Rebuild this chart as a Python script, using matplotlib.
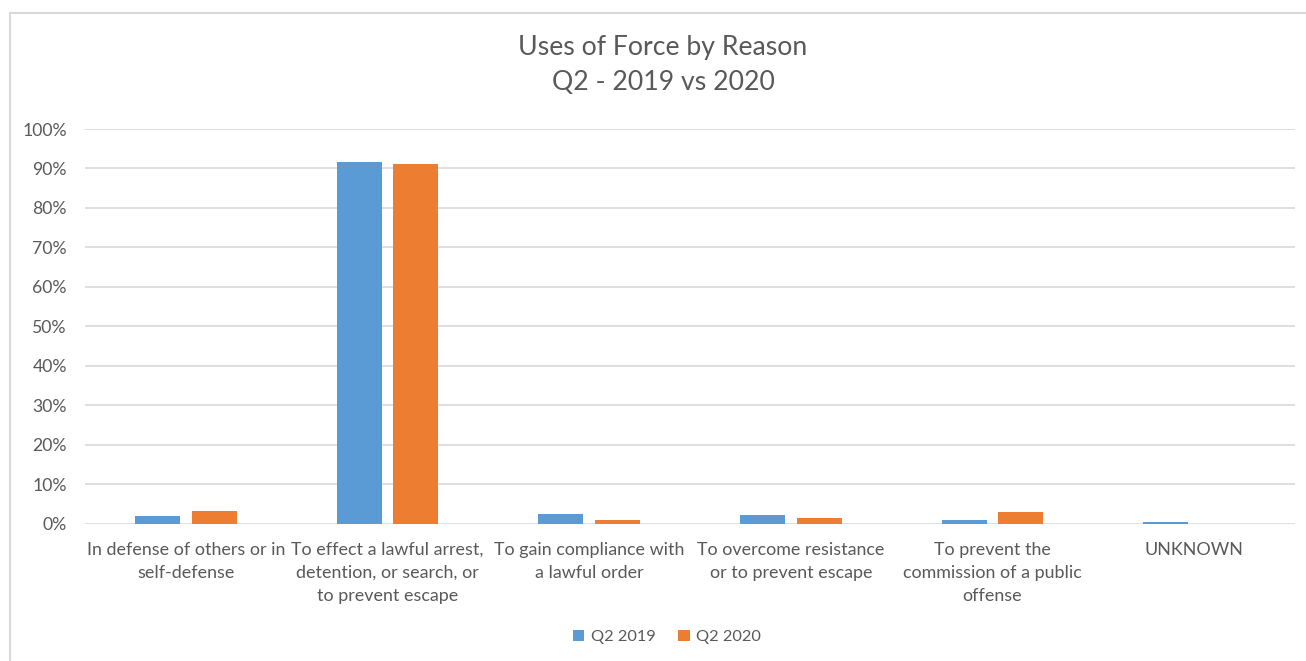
import matplotlib
matplotlib.use("Agg")
import matplotlib.pyplot as plt
import numpy as np
from matplotlib.patches import Rectangle
from matplotlib.ticker import PercentFormatter

plt.rcParams["font.family"] = ["Lato", "DejaVu Sans"]

categories = [
    "In defense of others or in\nself-defense",
    "To effect a lawful arrest,\ndetention, or search, or\nto prevent escape",
    "To gain compliance with\na lawful order",
    "To overcome resistance\nor to prevent escape",
    "To prevent the\ncommission of a public\noffense",
    "UNKNOWN",
]
q2_2019 = [1.9, 91.6, 2.4, 2.1, 0.85, 0.35]
q2_2020 = [3.2, 91.1, 0.85, 1.35, 2.95, 0.0]
y_ticks = list(range(0, 101, 10))

BLUE = "#5b9bd5"
ORANGE = "#ed7d31"
TEXT = "#595959"
GRID = "#d9d9d9"

W, H = 1306, 661
fig = plt.figure(figsize=(W / 100, H / 100), dpi=100)
ax = fig.add_axes([85 / W, (H - 523.5) / H, (1295 - 85) / W, (523.5 - 129) / H])

x = np.arange(len(categories))
width = 0.223
offset = 0.141
ax.bar(x - offset, q2_2019, width, color=BLUE, label="Q2 2019", zorder=3)
ax.bar(x + offset, q2_2020, width, color=ORANGE, label="Q2 2020", zorder=3)

ax.set_xlim(-0.5, len(categories) - 0.5)
ax.set_ylim(0, 100)
ax.set_yticks(y_ticks)
ax.yaxis.set_major_formatter(PercentFormatter(decimals=0))
ax.set_xticks(x)
ax.set_xticklabels(categories, linespacing=1.55)
ax.tick_params(axis="both", length=0, colors=TEXT)
ax.tick_params(axis="y", pad=13, labelsize=12.7)
ax.tick_params(axis="x", pad=13, labelsize=12.9)

ax.yaxis.grid(True, color=GRID, linewidth=1.2, zorder=0)
ax.set_axisbelow(True)
for side in ["top", "right", "left", "bottom"]:
    ax.spines[side].set_visible(False)

# title, two lines placed separately to match spacing
fig.text(663 / W, 1 - 48 / H, "Uses of Force by Reason",
         ha="center", va="center", fontsize=19.2, color=TEXT)
fig.text(663 / W, 1 - 83 / H, "Q2 - 2019 vs 2020",
         ha="center", va="center", fontsize=19.2, color=TEXT)

fig.legend(loc="center", bbox_to_anchor=(667 / W, 1 - 637 / H), ncol=2, frameon=False,
           fontsize=11.8, labelcolor=TEXT, handlelength=0.7, handleheight=0.7,
           handletextpad=0.4, columnspacing=1.4)

fig.patches.append(Rectangle((10 / W, -0.1), 2, (H - 13) / H + 0.1, transform=fig.transFigure,
                             fill=False, edgecolor=GRID, linewidth=1.5))

fig.savefig("out.png", dpi=100)
